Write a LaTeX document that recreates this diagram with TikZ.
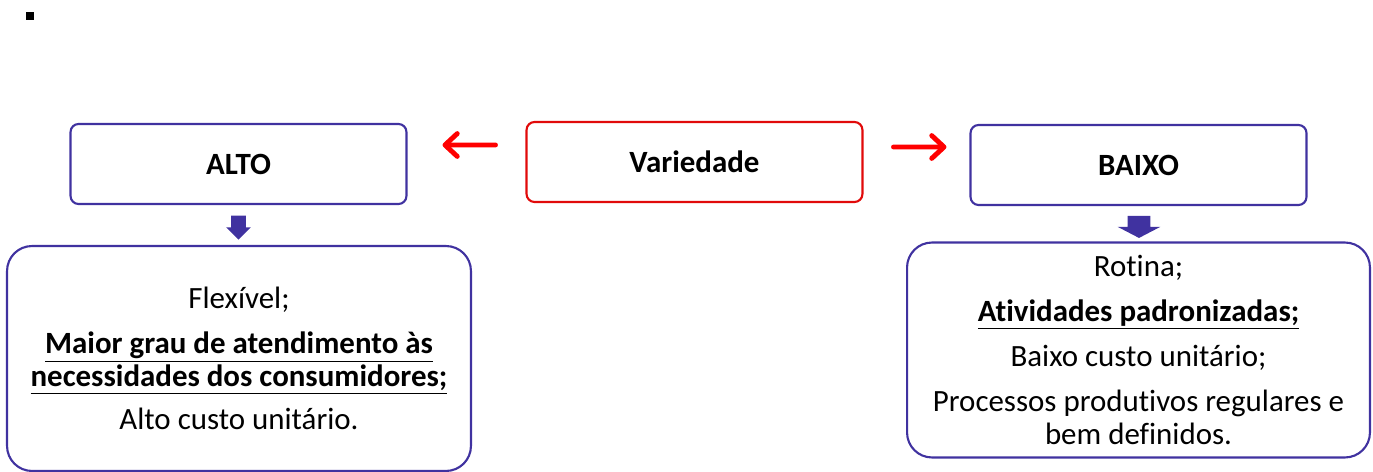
\documentclass[tikz,border=0pt]{standalone}
\usepackage{fontspec}
\setmainfont{Carlito}[Ligatures=NoCommon]
\usetikzlibrary{arrows.meta,shapes.arrows}

\definecolor{boxblue}{RGB}{64,50,160}
\definecolor{boxred}{RGB}{225,10,10}

\begin{document}
\begin{tikzpicture}[
    x=0.02cm, y=-0.02cm,
    level/.style={draw=boxblue, line width=1.2pt, rounded corners=0.16cm, minimum width=6.72cm, minimum height=1.6cm, inner sep=0pt, font=\fontsize{17.6}{19}\selectfont\bfseries},
    info/.style={draw=boxblue, line width=1.2pt, rounded corners=0.5cm, minimum width=9.28cm, inner sep=0pt, align=center, font=\fontsize{17.6}{18.7}\selectfont},
    redarrow/.style={line width=2.8pt, red, line cap=round, -{Straight Barb[round, length=7pt, width=13pt]}},
    downarrow/.style={single arrow, shape border rotate=270, fill=boxblue, single arrow head indent=0pt, inner ysep=0.04cm}
  ]
  \useasboundingbox (0,0) rectangle (1373,472);

  \node[fill, minimum size=0.16cm, inner sep=0pt] (bullet) at (30,16) {};

  \node[level] (alto) at (238.5,164) {ALTO};
  \node[level, draw=boxred] (variedade) at (694.5,162) {Variedade};
  \node[level] (baixo) at (1138.5,165) {BAIXO};

  \node[info, minimum height=4.5cm] (flex) at (239,358.5) {%
    Flexível;\\[7pt]
    \textbf{\underline{Maior grau de atendimento às}}\\
    \textbf{\underline{necessidades dos consumidores;}}\\[6pt]
    Alto custo unitário.};
  \node[info, minimum width=9.26cm, minimum height=4.3cm] (rotina) at (1138.5,350) {%
    Rotina;\\[7pt]
    \textbf{\underline{Atividades padronizadas;}}\\[7pt]
    Baixo custo unitário;\\[7pt]
    Processos produtivos regulares e\\
    bem definidos.};

  \draw[redarrow, shorten <=0.6cm, shorten >=0.7cm] ([yshift=0.34cm]variedade.west) -- ([yshift=0.38cm]alto.east);
  \draw[redarrow, shorten <=0.6cm, shorten >=0.46cm] ([yshift=0.3cm]variedade.east) -- ([yshift=0.36cm]baixo.west);

  \node[downarrow, inner xsep=0.14cm, minimum height=0.48cm, single arrow head extend=0.1cm] (altoseta) at (238.5,224) {};
  \node[downarrow, inner xsep=0.22cm, minimum height=0.44cm, single arrow head extend=0.2cm, single arrow tip angle=125] (baixoseta) at (1139,224) {};
\end{tikzpicture}
\end{document}
